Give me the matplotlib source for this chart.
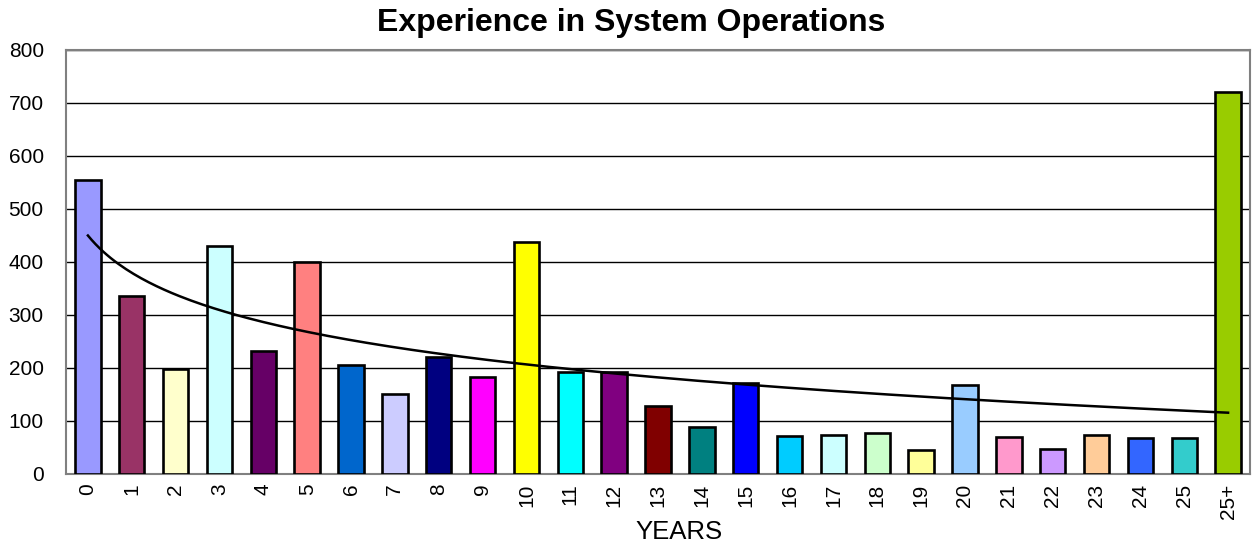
import numpy as np
import matplotlib
matplotlib.use("Agg")
import matplotlib.pyplot as plt

plt.rcParams['font.family'] = ['Liberation Sans', 'DejaVu Sans']

categories = [str(i) for i in range(26)] + ["25+"]
values = [555, 335, 198, 430, 232, 400, 206, 150, 220, 183, 437, 193, 192, 128,
          88, 172, 72, 73, 78, 45, 167, 70, 48, 73, 67, 68, 720]
colors = ["#9999FF", "#993366", "#FFFFCC", "#CCFFFF", "#660066", "#FF8080",
          "#0066CC", "#CCCCFF", "#000080", "#FF00FF", "#FFFF00", "#00FFFF",
          "#800080", "#800000", "#008080", "#0000FF", "#00CCFF", "#CCFFFF",
          "#CCFFCC", "#FFFF99", "#99CCFF", "#FF99CC", "#CC99FF", "#FFCC99",
          "#3366FF", "#33CCCC", "#99CC00"]
yticks = [0, 100, 200, 300, 400, 500, 600, 700, 800]

fig = plt.figure(figsize=(12.52, 5.45), dpi=100)
ax = fig.add_axes([0.0527, 0.1303, 0.9457, 0.7780])

x = np.arange(len(categories))
ax.bar(x, values, width=0.58, color=colors, edgecolor="black", linewidth=1.9, zorder=3)

# logarithmic trendline (Excel-style fit on ln(1..n))
xn = x + 1
b, a = np.polyfit(np.log(xn), values, 1)
xs = np.linspace(xn[0], xn[-1], 300)
ax.plot(xs - 1, a + b * np.log(xs), color="black", linewidth=1.8, zorder=4)

ax.set_xlim(-0.5, len(categories) - 0.5)
ax.set_ylim(0, 800)
ax.set_yticks(yticks)
ax.set_yticklabels([str(t) for t in yticks], fontsize=15)
ax.set_xticks(x)
ax.set_xticklabels(categories, rotation=90, fontsize=15)
ax.tick_params(axis='both', length=0)
ax.tick_params(axis='x', pad=7)
ax.tick_params(axis='y', pad=16)
ax.yaxis.grid(True, color="black", linewidth=1.0, zorder=0)
ax.set_axisbelow(True)
for s in ax.spines.values():
    s.set_color("#808080")
    s.set_linewidth(1.5)

fig.text(0.504, 0.958, "Experience in System Operations", fontsize=23,
         fontweight="bold", ha="center", va="center")
ax.set_xlabel("YEARS", fontsize=18.5)
ax.xaxis.set_label_coords(0.518, -0.108)

fig.savefig("out.png", dpi=100)
